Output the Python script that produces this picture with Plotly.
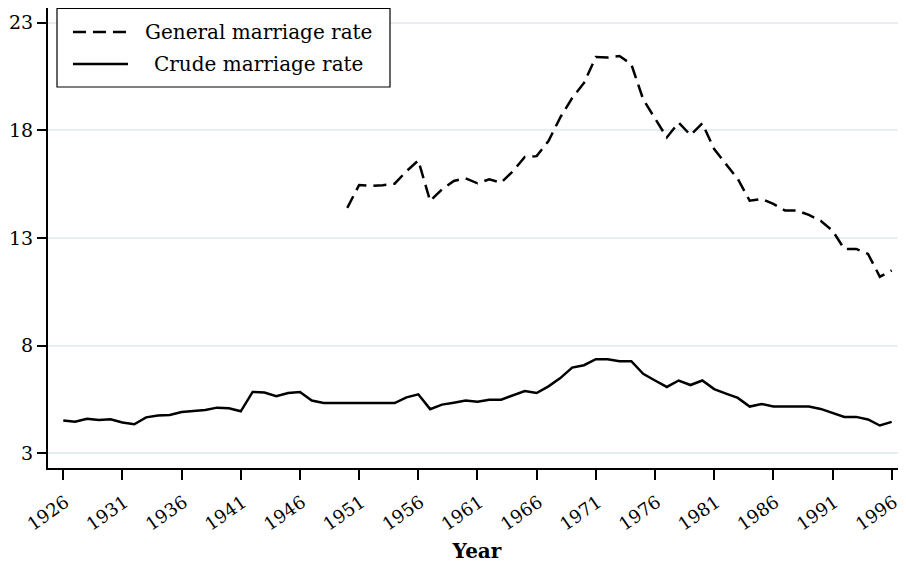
import plotly.graph_objects as go

years = list(range(1926, 1997))
crude = [4.52, 4.47, 4.60, 4.55, 4.58, 4.43, 4.35, 4.67, 4.75, 4.78,
         4.92, 4.95, 5.01, 5.12, 5.09, 4.95, 5.85, 5.82, 5.65, 5.80,
         5.85, 5.45, 5.34, 5.34, 5.34, 5.35, 5.33, 5.33, 5.33, 5.60,
         5.74, 5.05, 5.26, 5.35, 5.45, 5.40, 5.49, 5.49, 5.68, 5.89,
         5.80, 6.11, 6.49, 6.98, 7.09, 7.37, 7.37, 7.28, 7.28, 6.69,
         6.38, 6.08, 6.38, 6.17, 6.38, 5.98, 5.77, 5.57, 5.17, 5.29,
         5.17, 5.17, 5.17, 5.17, 5.06, 4.88, 4.69, 4.69, 4.57, 4.29, 4.46]

gen_years = list(range(1950, 1997))
general = [14.40, 15.46, 15.42, 15.45, 15.52, 16.10, 16.60, 14.72, 15.26, 15.65,
           15.77, 15.54, 15.72, 15.57, 16.10, 16.76, 16.80, 17.50, 18.60, 19.50,
           20.20, 21.40, 21.38, 21.45, 21.07, 19.44, 18.55, 17.67, 18.36, 17.78,
           18.32, 17.13, 16.43, 15.74, 14.73, 14.81, 14.58, 14.27, 14.27, 14.07,
           13.80, 13.34, 12.49, 12.49, 12.26, 11.20, 11.49]

x_ticks = list(range(1926, 1997, 5))
y_ticks = [3, 8, 13, 18, 23]
series_names = ["General marriage rate", "Crude marriage rate"]

FONT = "DejaVu Serif, Liberation Serif, serif"
DASH = "13px,7px"

fig = go.Figure()
fig.add_trace(go.Scatter(x=gen_years, y=general, mode="lines",
                         name=series_names[0], showlegend=False,
                         line=dict(color="black", width=2.5, dash=DASH)))
fig.add_trace(go.Scatter(x=years, y=crude, mode="lines",
                         name=series_names[1], showlegend=False,
                         line=dict(color="black", width=2.5)))

# Stata-style legend box (decoration, in paper coordinates)
fig.add_shape(type="rect", xref="paper", yref="paper",
              x0=0.0105, x1=0.3986, y0=0.8283, y1=0.999,
              line=dict(color="black", width=1.2), fillcolor="white", layer="above")
legend_rows = [0.9478, 0.8783]
legend_dash = [DASH, "solid"]
for name, yy, dsh in zip(series_names, legend_rows, legend_dash):
    fig.add_shape(type="line", xref="paper", yref="paper",
                  x0=0.0291, x1=0.0932, y0=yy, y1=yy,
                  line=dict(color="black", width=2.5, dash=dsh), layer="above")
    fig.add_annotation(xref="paper", yref="paper", x=0.2459, y=yy,
                       text=name, showarrow=False, xanchor="center", yanchor="middle",
                       font=dict(family=FONT, size=20, color="black"))

fig.update_layout(
    width=898, height=556,
    margin=dict(l=40, r=0, t=0, b=96),
    paper_bgcolor="white", plot_bgcolor="white",
    font=dict(family=FONT, color="black", size=19),
    showlegend=False,
    xaxis=dict(range=[1924.71, 1997.21], tickvals=x_ticks,
               ticktext=[str(v) for v in x_ticks], tickangle=-35,
               showgrid=False, zeroline=False, automargin=False,
               showline=True, linecolor="black", linewidth=2,
               ticks="outside", ticklen=10, tickwidth=1.5, tickcolor="black",
               ticklabelstandoff=5, ticklabelshift=2, ticklabeloverflow="allow",
               tickfont=dict(size=18, family=FONT),
               title=dict(text="<b>Year</b>", font=dict(size=20, family=FONT), standoff=10)),
    yaxis=dict(range=[2.317, 23.68], tickvals=y_ticks,
               showgrid=True, gridcolor="#e6eef1", gridwidth=2,
               zeroline=False, automargin=False,
               showline=True, linecolor="black", linewidth=2,
               ticks="outside", ticklen=9, tickwidth=1.5, tickcolor="black",
               tickfont=dict(size=19, family=FONT)),
)

fig.write_html("out.html")
